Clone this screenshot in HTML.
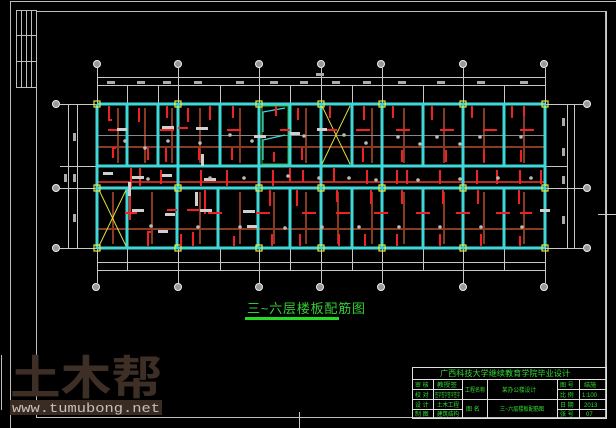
<!DOCTYPE html>
<html><head><meta charset="utf-8"><style>
html,body{margin:0;padding:0;background:#000;width:616px;height:428px;overflow:hidden}
svg{display:block}
</style></head><body>
<svg width="616" height="428" viewBox="0 0 616 428" xmlns="http://www.w3.org/2000/svg" font-family="Liberation Sans, Noto Sans CJK SC, sans-serif">
<rect width="616" height="428" fill="#000"/>
<g fill="none" stroke="#bdbdbd" stroke-width="1">
<path d="M10.5 428V1.5H616"/>
<rect x="36.5" y="11.5" width="569" height="406"/>
<rect x="16.5" y="10.5" width="20" height="77"/>
<path d="M21.5 10v77M26.5 10v77M31.5 10v77M16 35.5h20M16 61.5h20"/>
<path d="M1.5 355v55"/>
</g>
<g stroke="#c8c8c8" stroke-width="1" fill="none">
<path d="M97 77.5H545M97 85.5H545M97 262.5H545M97 270.5H545"/>
<path d="M68.5 104V248M77.5 104V248M567.5 104V248M574.5 104V248"/>
<path d="M60 104.5H97M60 188.5H97M60 248.5H97M545 104.5H583M545 188.5H583M545 248.5H583M545 166.5H567M60 166.5H97"/>
<path d="M97.5 68V104M178.5 68V104M259.5 68V104M321.5 68V104M382.5 68V104M463.5 68V104M545.5 68V104"/>
<path d="M97.5 248V283M178.5 248V283M259.5 248V283M321.5 248V283M382.5 248V283M463.5 248V283M545.5 248V283"/>
<path d="M127.5 85V104M158.5 85V104M220.5 85V104M290.5 85V104M352.5 85V104M423.5 85V104M504.5 85V104"/>
<path d="M127.5 248V270M220.5 248V270M290.5 248V270M352.5 248V270M423.5 248V270M504.5 248V270"/>
<path d="M606.5 11V418M598 214.5H616M299.5 412V428"/>
</g>
<g fill="#aaa">
<rect x="107" y="81" width="8" height="3"/><rect x="137" y="81" width="8" height="3"/><rect x="163" y="81" width="8" height="3"/><rect x="194" y="81" width="8" height="3"/><rect x="236" y="81" width="8" height="3"/><rect x="270" y="81" width="8" height="3"/><rect x="300" y="81" width="8" height="3"/><rect x="332" y="81" width="8" height="3"/><rect x="363" y="81" width="8" height="3"/><rect x="398" y="81" width="8" height="3"/><rect x="437" y="81" width="8" height="3"/><rect x="477" y="81" width="8" height="3"/><rect x="520" y="81" width="8" height="3"/>
<rect x="316" y="73" width="8" height="3"/>
<rect x="562" y="118" width="3" height="8"/><rect x="562" y="148" width="3" height="8"/><rect x="562" y="176" width="3" height="8"/><rect x="562" y="216" width="3" height="8"/>
<rect x="73" y="133" width="3" height="8"/><rect x="73" y="174" width="3" height="8"/><rect x="73" y="214" width="3" height="8"/><rect x="64" y="174" width="3" height="8"/>
</g>
<g fill="#999" stroke="#eee" stroke-width="1">
<circle cx="97" cy="64" r="3.5"/><circle cx="178" cy="64" r="3.5"/><circle cx="259" cy="64" r="3.5"/><circle cx="321" cy="64" r="3.5"/><circle cx="381" cy="64" r="3.5"/><circle cx="463" cy="64" r="3.5"/><circle cx="544" cy="64" r="3.5"/>
<circle cx="96" cy="287" r="3.5"/><circle cx="178" cy="287" r="3.5"/><circle cx="259" cy="287" r="3.5"/><circle cx="320" cy="287" r="3.5"/><circle cx="381" cy="287" r="3.5"/><circle cx="463" cy="287" r="3.5"/><circle cx="544" cy="287" r="3.5"/>
<circle cx="56" cy="104" r="3.5"/><circle cx="56" cy="188" r="3.5"/><circle cx="56" cy="248" r="3.5"/>
<circle cx="587" cy="104" r="3.5"/><circle cx="587" cy="188" r="3.5"/><circle cx="587" cy="248" r="3.5"/>
</g>
<g stroke="#8a3a22" stroke-width="2" fill="none">
<path d="M97 147H545M97 229H545M97 182H545"/>
<path d="M118 108v55M145 108v55M172 108v55M200 108v55M240 108v55M306 108v55M372 108v55M404 108v55M444 108v55M484 108v55M524 108v55"/>
<path d="M113 192v52M152 192v52M200 192v52M240 192v52M274 192v52M306 192v52M338 192v52M372 192v52M404 192v52M444 192v52M484 192v52M524 192v52"/>
</g>
<path d="M97 182H545" stroke="#c0281e" stroke-width="1.5"/>
<path d="M97 135.5H545" stroke="#888" stroke-width="1"/>
<g stroke="#3fd8d8" stroke-width="3" fill="none">
<path d="M97 104H545M97 166H545M97 188H545M97 248H545"/>
<path d="M97 104V248M545 104V248"/>
<path d="M127 104V166M158 104V166M178 104V166M220 104V166M259 104V166M290 104V166M321 104V166M352 104V166M382 104V166M423 104V166M463 104V166M504 104V166"/>
<path d="M127 188V248M177 188V248M218 188V248M258 188V248M290 188V248M321 188V248M352 188V248M382 188V248M423 188V248M463 188V248M504 188V248"/>
<path d="M178 166V188M259 166V188M321 166V188M382 166V188M463 166V188"/>
</g>
<g stroke="#3fd8d8" stroke-width="1.2" fill="none">
<path d="M263 132V112L285 108M263 160V140L285 135"/>
</g>
<g stroke="#dddd40" stroke-width="1" fill="none">
<path d="M322 106L350 164M350 106L322 164M99 190L126 246M126 190L99 246"/>
<path d="M262 106V164H288V106Z" stroke="#2fae2f"/>
</g>
<g fill="none" stroke="#e8e840" stroke-width="1.2">
<rect x="94" y="101" width="6" height="6"/><rect x="175" y="101" width="6" height="6"/><rect x="256" y="101" width="6" height="6"/><rect x="318" y="101" width="6" height="6"/><rect x="379" y="101" width="6" height="6"/><rect x="460" y="101" width="6" height="6"/><rect x="542" y="101" width="6" height="6"/>
<rect x="94" y="185" width="6" height="6"/><rect x="175" y="185" width="6" height="6"/><rect x="256" y="185" width="6" height="6"/><rect x="318" y="185" width="6" height="6"/><rect x="379" y="185" width="6" height="6"/><rect x="460" y="185" width="6" height="6"/><rect x="542" y="185" width="6" height="6"/>
<rect x="94" y="245" width="6" height="6"/><rect x="175" y="245" width="6" height="6"/><rect x="256" y="245" width="6" height="6"/><rect x="318" y="245" width="6" height="6"/><rect x="379" y="245" width="6" height="6"/><rect x="460" y="245" width="6" height="6"/><rect x="542" y="245" width="6" height="6"/>
</g>
<g stroke="#ee2222" stroke-width="2" fill="none">
<path d="M109 106v14h3M139 108v14M167 106v12M188 108v14M210 106v14M233 106v12M276 106v10M298 108v12M330 106v12M364 106v14M393 106v12M432 106v14M472 106v12M512 106v12M524 106v10"/>
<path d="M108 130h10M160 130h14M178 128h10M227 130h14M280 130h10M327 130h10M356 130h14M396 130h14M440 130h14M483 130h14M520 130h14"/>
<path d="M113 158v-10h3M148 160v-12M166 162v-14M199 160v-12M232 160v-12M274 162v-10M302 160v-12M363 162v-14M402 162v-12M446 162v-12M484 162v-12M521 162v-12"/>
<path d="M131 168v20M140 168v18M161 170v14M201 170v16M227 170v16M273 170v16M290 168v14M303 170v12M334 168v14M367 170v14M397 170v14M407 170v14M440 170v14M477 170v14M497 170v14M520 170v14M541 170v14"/>
<path d="M130 190v30M205 190v24M270 190v16M297 190v16M337 190v12M371 190v14M402 190v14M443 190v14M478 190v14M519 190v14"/>
<path d="M125 213h12M167 210h10M187 210h12M208 213h14M256 213h14M302 213h14M336 213h14M374 213h14M416 213h14M456 213h14M496 213h14M520 213h12"/>
<path d="M148 246v-14h3M181 246v-12M193 246v-14M234 246v-10M272 246v-12M300 246v-12M339 246v-12M365 246v-12M397 246v-12M440 246v-12M481 246v-12M520 246v-10"/>
</g>
<g fill="#cfcfcf">
<rect x="117" y="128" width="10" height="3"/><rect x="162" y="126" width="12" height="3"/><rect x="196" y="127" width="12" height="3"/><rect x="317" y="128" width="10" height="3"/><rect x="254" y="135" width="12" height="3"/><rect x="290" y="132" width="10" height="3"/>
<rect x="103" y="172" width="10" height="3"/><rect x="132" y="176" width="12" height="3"/><rect x="162" y="174" width="10" height="3"/><rect x="204" y="178" width="12" height="3"/>
<rect x="132" y="209" width="12" height="3"/><rect x="165" y="213" width="10" height="3"/><rect x="200" y="209" width="12" height="3"/><rect x="243" y="210" width="12" height="3"/><rect x="158" y="230" width="10" height="3"/><rect x="247" y="225" width="10" height="3"/><rect x="540" y="209" width="10" height="3"/>
<rect x="128" y="182" width="3" height="14"/><rect x="195" y="192" width="3" height="14"/><rect x="201" y="154" width="3" height="12"/>
</g>
<g fill="#bbb">
<circle cx="125" cy="141" r="1.8"/><circle cx="145" cy="148" r="1.8"/><circle cx="168" cy="141" r="1.8"/><circle cx="200" cy="143" r="1.8"/><circle cx="230" cy="135" r="1.8"/><circle cx="252" cy="141" r="1.8"/><circle cx="304" cy="136" r="1.8"/><circle cx="344" cy="135" r="1.8"/><circle cx="366" cy="143" r="1.8"/><circle cx="398" cy="137" r="1.8"/><circle cx="420" cy="144" r="1.8"/><circle cx="437" cy="137" r="1.8"/><circle cx="460" cy="144" r="1.8"/><circle cx="480" cy="137" r="1.8"/><circle cx="521" cy="137" r="1.8"/>
<circle cx="148" cy="179" r="1.8"/><circle cx="210" cy="178" r="1.8"/><circle cx="244" cy="178" r="1.8"/><circle cx="288" cy="176" r="1.8"/><circle cx="319" cy="178" r="1.8"/><circle cx="349" cy="178" r="1.8"/><circle cx="376" cy="180" r="1.8"/><circle cx="418" cy="180" r="1.8"/><circle cx="460" cy="179" r="1.8"/><circle cx="498" cy="178" r="1.8"/><circle cx="531" cy="178" r="1.8"/>
<circle cx="151" cy="226" r="1.8"/><circle cx="198" cy="227" r="1.8"/><circle cx="240" cy="227" r="1.8"/><circle cx="285" cy="228" r="1.8"/><circle cx="322" cy="227" r="1.8"/><circle cx="359" cy="227" r="1.8"/><circle cx="399" cy="227" r="1.8"/><circle cx="440" cy="227" r="1.8"/><circle cx="481" cy="227" r="1.8"/><circle cx="522" cy="227" r="1.8"/>
</g>
<text x="247" y="313" font-size="13" fill="#33cc33" letter-spacing="0.8">三~六层楼板配筋图</text>
<rect x="245" y="317" width="94" height="3" fill="#22dd22"/>
<g fill="none" stroke="#e0e0e0" stroke-width="1">
<rect x="412.5" y="367.5" width="194" height="51"/>
<path d="M412 379.5H607M412 389.5H462M557 389.5H607M412 399.5H607M412 409.5H462M557 409.5H607"/>
<path d="M433.5 379V419M462.5 379V419M487.5 379V419M557.5 379V419M579.5 379V419"/>
</g>
<g fill="#33dd33" font-size="6">
<text x="440" y="376" font-size="8" textLength="130" lengthAdjust="spacingAndGlyphs">广西科技大学继续教育学院毕业设计</text>
<text x="415" y="387">审 核</text><text x="415" y="397">校 对</text><text x="415" y="407">设 计</text><text x="415" y="416">制 图</text>
<text x="437" y="387" textLength="20" lengthAdjust="spacingAndGlyphs">教授签</text><text x="435" y="397" textLength="25" lengthAdjust="spacingAndGlyphs">签字签字签字签字</text><text x="437" y="407" textLength="22" lengthAdjust="spacingAndGlyphs">土木工程</text><text x="437" y="416" textLength="22" lengthAdjust="spacingAndGlyphs">建筑结构</text>
<text x="465" y="392" textLength="20" lengthAdjust="spacingAndGlyphs">工程名称</text><text x="466" y="411">图 名</text>
<text x="502" y="392" textLength="34" lengthAdjust="spacingAndGlyphs">某办公楼设计</text><text x="500" y="411" textLength="44" lengthAdjust="spacingAndGlyphs">三~六层楼板配筋图</text>
<text x="560" y="387">图 号</text><text x="560" y="397">比 例</text><text x="560" y="407">日 期</text><text x="560" y="416">张 号</text>
<text x="584" y="387">结施</text><text x="582" y="397">1:100</text><text x="584" y="407">2013</text><text x="586" y="416">07</text>
</g>
<text x="10" y="394" font-size="46" fill="#3e2f26" font-family="Noto Sans CJK SC, sans-serif" font-weight="bold" textLength="152" lengthAdjust="spacingAndGlyphs">土木帮</text>
<rect x="10" y="400" width="152" height="15" fill="#3a2c23"/>
<text x="12" y="412" font-size="12.5" fill="#c8c0b8" font-family="Liberation Mono, monospace" textLength="148" lengthAdjust="spacingAndGlyphs">www.tumubong.net</text>
</svg>
</body></html>
